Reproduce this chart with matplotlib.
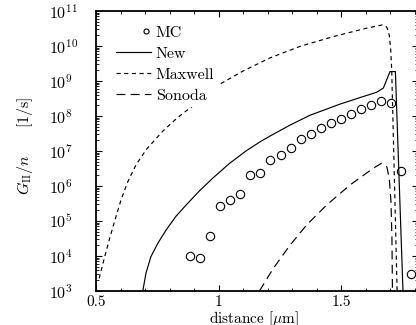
import numpy as np
import matplotlib
matplotlib.use("Agg")
import matplotlib.pyplot as plt
from matplotlib.ticker import MultipleLocator, FixedLocator, FixedFormatter, NullFormatter, LogFormatterMathtext
from matplotlib.legend_handler import HandlerLine2D

plt.rcParams['font.family'] = ['cmr10', 'DejaVu Serif']
plt.rcParams['mathtext.fontset'] = 'cm'
plt.rcParams['axes.formatter.use_mathtext'] = True

# ---- data ----
mc_x = [0.884, 0.925, 0.966, 1.007, 1.048, 1.089, 1.130, 1.171, 1.212, 1.254,
        1.294, 1.335, 1.376, 1.417, 1.458, 1.499, 1.540, 1.581, 1.622, 1.663,
        1.704, 1.746, 1.786]
mc_logy = [4.00, 3.94, 4.56, 5.42, 5.60, 5.76, 6.32, 6.38, 6.74, 6.88,
           7.09, 7.33, 7.49, 7.66, 7.80, 7.92, 8.07, 8.19, 8.31, 8.44,
           8.38, 6.42, 3.49]

new_x = [0.691, 0.704, 0.724, 0.752, 0.786, 0.827, 0.867, 0.922, 0.976, 1.044,
         1.112, 1.169, 1.211, 1.292, 1.373, 1.496, 1.566, 1.646, 1.673, 1.700,
         1.722, 1.733, 1.753]
new_logy = [3.00, 3.51, 3.98, 4.36, 4.74, 5.14, 5.45, 5.86, 6.22, 6.64,
            7.00, 7.26, 7.43, 7.74, 8.02, 8.34, 8.50, 8.68, 8.80, 9.27,
            9.27, 7.03, 3.00]

max_x = [0.513, 0.534, 0.554, 0.575, 0.602, 0.629, 0.663, 0.706, 0.773, 0.829,
         0.867, 0.924, 1.003, 1.099, 1.210, 1.333, 1.469, 1.605, 1.667, 1.687,
         1.697, 1.703, 1.707, 1.715, 1.723, 1.729]
max_logy = [3.36, 3.94, 4.46, 4.97, 5.60, 6.11, 6.60, 7.05, 7.57, 7.93,
            8.14, 8.43, 8.90, 9.28, 9.66, 9.99, 10.27, 10.51, 10.60, 10.54,
            10.31, 9.89, 9.31, 7.03, 4.74, 3.00]

son_x = [1.167, 1.224, 1.292, 1.360, 1.442, 1.537, 1.632, 1.666, 1.687, 1.697,
         1.704, 1.708, 1.710]
son_logy = [3.00, 3.65, 4.31, 4.89, 5.46, 6.03, 6.51, 6.65, 6.55, 6.22,
            5.55, 4.46, 3.00]

xtick_vals = [0.5, 1.0, 1.5]
xtick_labels = ['0.5', '1', '1.5']
ytick_exps = [3, 4, 5, 6, 7, 8, 9, 10, 11]

fig = plt.figure(figsize=(4.16, 3.25), dpi=100)
ax = fig.add_axes([96/416, 34/325, (417.5-96)/416, 280/325])

lw = 0.85
ax.plot(new_x, 10**np.array(new_logy), color='black', lw=lw, label='New')
ax.plot(max_x, 10**np.array(max_logy), color='black', lw=lw, dashes=(3.5, 3.0), label='Maxwell')
ax.plot(son_x, 10**np.array(son_logy), color='black', lw=lw, dashes=(7.5, 4.5), label='Sonoda')
ax.plot(mc_x, 10**np.array(mc_logy), linestyle='none', marker='o', markersize=6,
        markerfacecolor='none', markeredgecolor='black', markeredgewidth=0.8, label='MC')

ax.set_yscale('log')
ax.set_xlim(0.5, 0.5 + (417.5-96)/245)
ax.set_ylim(1e3, 1e11)

ax.xaxis.set_major_locator(FixedLocator(xtick_vals))
ax.xaxis.set_major_formatter(FixedFormatter(xtick_labels))
ax.xaxis.set_minor_locator(MultipleLocator(0.1))
ymajor = [10.0**e for e in ytick_exps]
yminor = [m * 10.0**e for e in ytick_exps[:-1] for m in range(2, 10)]
ax.yaxis.set_major_locator(FixedLocator(ymajor))
ax.yaxis.set_major_formatter(LogFormatterMathtext())
ax.yaxis.set_minor_locator(FixedLocator(yminor))
ax.yaxis.set_minor_formatter(NullFormatter())

ax.tick_params(which='both', direction='in', top=True, right=True)
ax.tick_params(which='major', length=4, width=0.8)
ax.tick_params(which='minor', length=2.5, width=0.6)
ax.tick_params(axis='y', labelsize=11.5, pad=34)
ax.tick_params(axis='x', labelsize=11, pad=3)
for lab in ax.get_yticklabels():
    lab.set_horizontalalignment('left')
for s in ax.spines.values():
    s.set_linewidth(1.3)

ax.set_xlabel(r'distance [$\mu$m]', fontsize=11)
ax.xaxis.set_label_coords(0.491, -0.064)
ax.xaxis.label.set_verticalalignment('top')
ax.set_ylabel(r'$G_{\rm II}/n\quad\quad[1/{\rm s}]$', fontsize=11.5)
ax.yaxis.set_label_coords(-0.19, 0.518)


class RightMarkerHandler(HandlerLine2D):
    def get_xdata(self, legend, xdescent, ydescent, width, height, fontsize):
        xdata = np.array([-xdescent + 0.7 * width, -xdescent + width])
        xdata_marker = np.array([-xdescent + 0.85 * width])
        return xdata, xdata_marker


handles, labels = ax.get_legend_handles_labels()
order = [3, 0, 1, 2]
leg = ax.legend([handles[i] for i in order], [labels[i] for i in order],
                loc='upper left', bbox_to_anchor=(0.022, 0.993), frameon=True,
                fancybox=False, edgecolor='none', facecolor='white', framealpha=1,
                fontsize=11.5, handlelength=2.2, handletextpad=0.3, labelspacing=0.42,
                numpoints=1, markerscale=0.6, borderpad=0.3,
                handler_map={handles[3]: RightMarkerHandler(numpoints=1)})

fig.savefig('out.png', dpi=100)
